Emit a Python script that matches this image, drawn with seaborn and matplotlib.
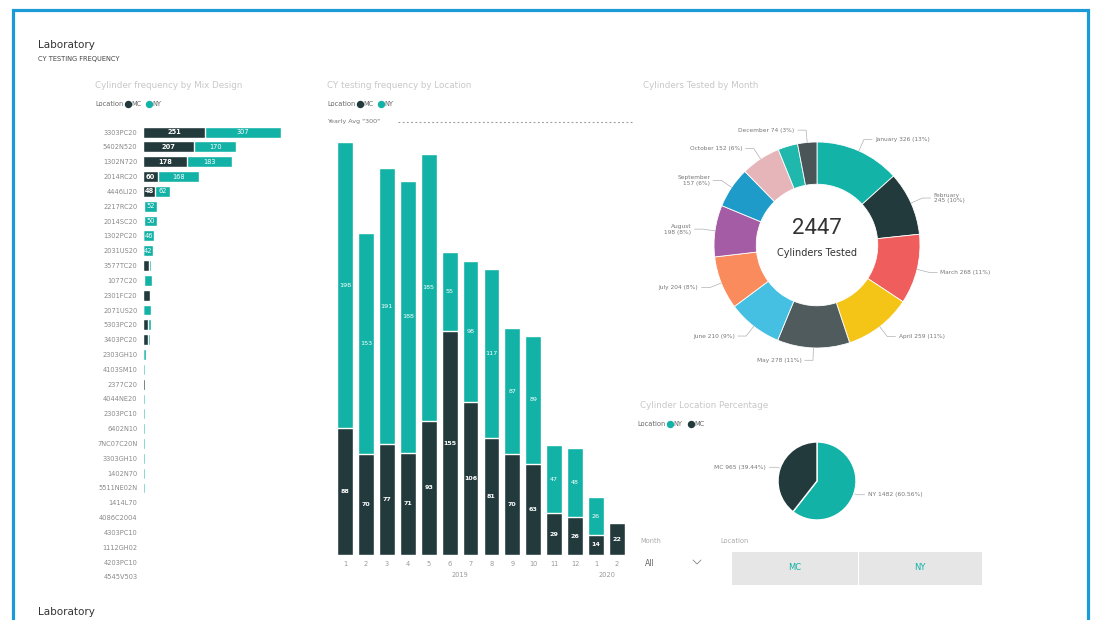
import numpy as np
import pandas as pd
import matplotlib
matplotlib.use("Agg")
import matplotlib.pyplot as plt
import seaborn as sns
from matplotlib.lines import Line2D
from matplotlib.patches import Rectangle

# ---------------- data ----------------
mix_designs = ["3303PC20", "5402N520", "1302N720", "2014RC20", "4446LI20", "2217RC20",
               "2014SC20", "1302PC20", "2031US20", "3577TC20", "1077C20", "2301FC20",
               "2071US20", "5303PC20", "3403PC20", "2303GH10", "4103SM10", "2377C20",
               "4044NE20", "2303PC10", "6402N10", "7NC07C20N", "3303GH10", "1402N70",
               "5511NE02N", "1414L70", "4086C2004", "4303PC10", "1112GH02", "4203PC10",
               "4545V503"]
mix_mc = [251, 207, 178, 60, 48, 6, 5, 0, 0, 26, 4, 30, 2, 22, 20, 0, 0, 10,
          0, 0, 0, 0, 0, 0, 0, 0, 0, 0, 0, 0, 0]
mix_ny = [307, 170, 183, 168, 62, 52, 50, 46, 42, 6, 34, 4, 32, 10, 8, 12, 10, 2,
          8, 8, 8, 8, 8, 8, 8, 0, 0, 0, 0, 0, 0]

cy_year = [2019] * 12 + [2020] * 2
cy_month = [1, 2, 3, 4, 5, 6, 7, 8, 9, 10, 11, 12, 1, 2]
cy_mc = [88, 70, 77, 71, 93, 155, 106, 81, 70, 63, 29, 26, 14, 22]
cy_ny = [198, 153, 191, 188, 185, 55, 98, 117, 87, 89, 47, 48, 26, 0]
ref_value = 300

month_names = ["January", "February", "March", "April", "May", "June", "July",
               "August", "September", "October", "November", "December"]
month_colors = ["#13b3a8", "#223a3c", "#ef5d5d", "#f4c417", "#4f5b5d", "#45c0e2",
                "#f98b5c", "#a45ca4", "#1e9bc8", "#e5b5b9", "#20b7ad", "#4a5557"]

TEAL = "#12b2a7"
DARK = "#233a3c"

W, H = 1093, 620

sns.set_theme(style="white")
plt.rcParams['font.family'] = ['DejaVu Sans']

fig = plt.figure(figsize=(W / 100, H / 100), dpi=100)
fig.patch.set_facecolor("white")


def px_axes(x0, y0, x1, y1):
    return fig.add_axes([x0 / W, 1 - y1 / H, (x1 - x0) / W, (y1 - y0) / H])


def ftext(x, y, s, **kw):
    kw.setdefault("va", "center")
    fig.text(x / W, 1 - y / H, s, **kw)


def legend_row(x, y, items):
    ftext(x, y, "Location", fontsize=4.8, color="#666666")
    cx = x + 33
    for lab, col in items:
        fig.add_artist(Line2D([cx / W], [1 - y / H], marker="o", markersize=4.3,
                              color=col, linestyle="none", transform=fig.transFigure))
        ftext(cx + 3.5, y, lab, fontsize=4.8, color="#666666")
        cx += 21


# ---------------- frame & headings ----------------
fig.add_artist(Rectangle((13 / W, 1 - (H + 20) / H), (1088 - 13) / W, (H + 10) / H,
                         fill=False, edgecolor="#1b9ad8", linewidth=2.3,
                         transform=fig.transFigure))
ftext(38, 45, "Laboratory", fontsize=7.5, color="#333333")
ftext(38, 59, "CY TESTING FREQUENCY", fontsize=4.8, color="#444444")
ftext(38, 612, "Laboratory", fontsize=7.5, color="#333333")

TITLE_C = "#c8c8c8"
ftext(95, 86, "Cylinder frequency by Mix Design", fontsize=6.3, color=TITLE_C)
ftext(327, 86, "CY testing frequency by Location", fontsize=6.3, color=TITLE_C)
ftext(643, 86, "Cylinders Tested by Month", fontsize=6.3, color=TITLE_C)
ftext(640, 405, "Cylinder Location Percentage", fontsize=6.3, color=TITLE_C)

legend_row(95, 104, [("MC", DARK), ("NY", TEAL)])
legend_row(327, 104, [("MC", DARK), ("NY", TEAL)])
legend_row(637, 424, [("NY", TEAL), ("MC", DARK)])

# ---------------- left: horizontal stacked bars ----------------
dfl = pd.DataFrame({"design": mix_designs, "MC": mix_mc, "NY": mix_ny})
dfl["total"] = dfl["MC"] + dfl["NY"]
axl = px_axes(143, 124.6, 316, 584.4)
sns.barplot(data=dfl, y="design", x="total", color=TEAL, saturation=1, width=0.74,
            orient="h", errorbar=None, ax=axl)
sns.barplot(data=dfl, y="design", x="MC", color=DARK, saturation=1, width=0.74,
            orient="h", errorbar=None, ax=axl)
for i, r in dfl.iterrows():
    if r["MC"] >= 40:
        axl.text(r["MC"] / 2, i, str(r["MC"]), ha="center", va="center",
                 fontsize=4.8, color="white", fontweight="bold")
    if r["NY"] >= 40:
        axl.text(r["MC"] + r["NY"] / 2, i, str(r["NY"]), ha="center", va="center",
                 fontsize=4.8, color="white")
axl.set_xlim(0, 700)
axl.set_ylim(len(dfl) - 0.5, -0.5)
axl.set_xlabel("")
axl.set_ylabel("")
axl.set_xticks([])
axl.tick_params(axis="y", length=0, labelsize=4.8, labelcolor="#8a8a8a", pad=4)
sns.despine(ax=axl, left=True, bottom=True)

# ---------------- middle: vertical stacked bars ----------------
dfc = pd.DataFrame({"year": cy_year, "month": cy_month, "MC": cy_mc, "NY": cy_ny})
dfc["key"] = dfc["year"].astype(str) + "-" + dfc["month"].astype(str)
dfc["total"] = dfc["MC"] + dfc["NY"]
axm = px_axes(334.5, 122, 627.5, 555)
sns.barplot(data=dfc, x="key", y="total", color=TEAL, saturation=1, width=0.76,
            errorbar=None, ax=axm)
sns.barplot(data=dfc, x="key", y="MC", color=DARK, saturation=1, width=0.76,
            errorbar=None, ax=axm)
for i, r in dfc.iterrows():
    if r["MC"] > 0:
        axm.text(i, r["MC"] / 2, str(r["MC"]), ha="center", va="center",
                 fontsize=4.6, color="white", fontweight="bold")
    if r["NY"] > 0:
        axm.text(i, r["MC"] + r["NY"] / 2, str(r["NY"]), ha="center", va="center",
                 fontsize=4.6, color="white")
axm.set_ylim(0, 300)
axm.set_xlim(-0.5, len(dfc) - 0.5)
axm.set_xticks(range(len(dfc)))
axm.set_xticklabels(dfc["month"].astype(str))
axm.set_yticks([])
axm.set_xlabel("")
axm.set_ylabel("")
axm.tick_params(axis="x", length=0, labelsize=4.8, labelcolor="#999999", pad=4)
sns.despine(ax=axm, left=True, bottom=True)
xt = axm.get_xaxis_transform()
for yr, grp in dfc.groupby("year"):
    idx = grp.index
    axm.text((idx.min() + idx.max()) / 2, -0.047, str(yr), transform=xt, ha="center",
             va="center", fontsize=4.8, color="#999999")
axm.axhline(ref_value, xmin=0.217, xmax=1.015, color="#9a9a9a", lw=0.8,
            ls=(0, (1.6, 2.2)), clip_on=False)
axm.text(-0.026, ref_value, 'Yearly Avg "%d"' % ref_value,
         transform=axm.get_yaxis_transform(), ha="left", va="center",
         fontsize=4.6, color="#777777")

# ---------------- donut: cylinders by month ----------------
month_tot = dfc.groupby("month")[["MC", "NY"]].sum().sum(axis=1)
total = int(month_tot.sum())
axd = px_axes(657, 115, 977, 375)
wedges, _ = axd.pie(month_tot.values, startangle=90, counterclock=False,
                    colors=month_colors, radius=1,
                    wedgeprops=dict(width=0.41, edgecolor="white", linewidth=0.6))
two_line = {"February", "August", "September"}
for w, name, val in zip(wedges, month_names, month_tot.values):
    if name == "November":
        continue
    ang = np.deg2rad((w.theta1 + w.theta2) / 2)
    c, s = np.cos(ang), np.sin(ang)
    side = 1 if c >= 0 else -1
    p1 = (1.0 * c, 1.0 * s)
    p2 = (1.12 * c, 1.12 * s)
    p3 = (p2[0] + side * 0.08, p2[1])
    axd.plot([p1[0], p2[0], p3[0]], [p1[1], p2[1], p3[1]], color="#b0b0b0", lw=0.5)
    pct = val / total * 100
    sep = "\n" if name in two_line else " "
    lab = f"{name}{sep}{val} ({pct:.0f}%)"
    axd.text(p3[0] + side * 0.03, p3[1], lab, ha="left" if side > 0 else "right",
             va="center", fontsize=4.2, color="#777777", linespacing=1.2)
axd.text(0, 0.165, f"{total}", ha="center", va="center", fontsize=16,
         color="#333333", family="Roboto")
axd.text(0, -0.08, "Cylinders Tested", ha="center", va="center", fontsize=7,
         color="#333333")
axd.set_xlim(-160 / 103, 160 / 103)
axd.set_ylim(-130 / 103, 130 / 103)

# ---------------- pie: location ----------------
loc_names = ["NY", "MC"]
loc_tot = [int(dfc["NY"].sum()), int(dfc["MC"].sum())]
axp = px_axes(717, 431, 917, 531)
wedges2, _ = axp.pie(loc_tot, startangle=90, counterclock=False,
                     colors=[TEAL, DARK], radius=1)
ltot = sum(loc_tot)
for w, name, val in zip(wedges2, loc_names, loc_tot):
    ang = np.deg2rad((w.theta1 + w.theta2) / 2)
    c, s = np.cos(ang), np.sin(ang)
    side = 1 if c >= 0 else -1
    p1 = (1.02 * c, 1.02 * s)
    p2 = (1.08 * c, 1.08 * s)
    p3 = (p2[0] + side * 0.2, p2[1])
    axp.plot([p1[0], p2[0], p3[0]], [p1[1], p2[1], p3[1]], color="#b0b0b0", lw=0.5)
    axp.text(p3[0] + side * 0.08, p3[1], f"{name} {val} ({val / ltot * 100:.2f}%)",
             ha="left" if side > 0 else "right", va="center", fontsize=4.3,
             color="#777777")
axp.set_xlim(-100 / 39, 100 / 39)
axp.set_ylim(-50 / 39, 50 / 39)

# ---------------- slicers ----------------
ftext(640, 541, "Month", fontsize=4.8, color="#aaaaaa")
ftext(645, 563, "All", fontsize=5.5, color="#666666")
fig.add_artist(Line2D([693 / W, 697 / W, 701 / W],
                      [1 - 560 / H, 1 - 564 / H, 1 - 560 / H],
                      color="#888888", lw=0.6, transform=fig.transFigure))
ftext(720, 541, "Location", fontsize=4.8, color="#aaaaaa")
fig.add_artist(Rectangle((732 / W, 1 - 585 / H), (858 - 732) / W, 33 / H,
                         facecolor="#e6e6e6", edgecolor="none", transform=fig.transFigure))
fig.add_artist(Rectangle((859 / W, 1 - 585 / H), (982 - 859) / W, 33 / H,
                         facecolor="#e6e6e6", edgecolor="none", transform=fig.transFigure))
ftext(795, 568, "MC", fontsize=6, color=TEAL, ha="center")
ftext(920, 568, "NY", fontsize=6, color=TEAL, ha="center")

fig.savefig("out.png", dpi=100)
